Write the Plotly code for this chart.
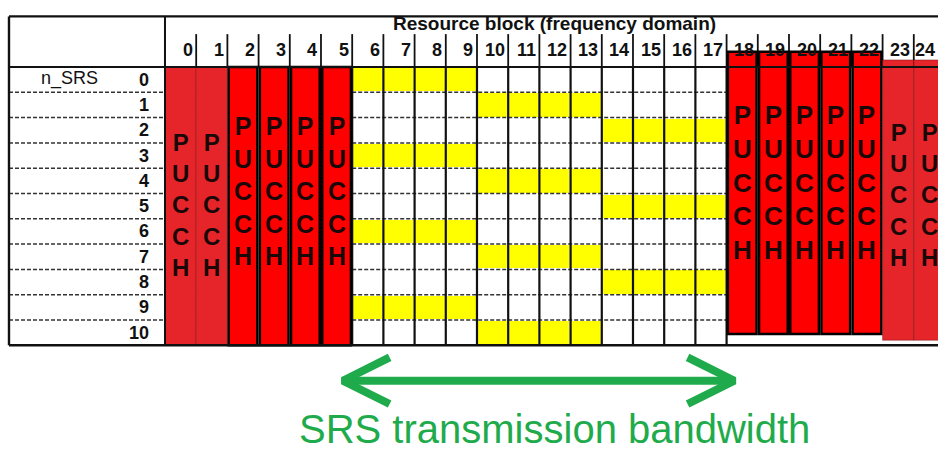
import plotly.graph_objects as go

# ---------------- data ----------------
RB_COLUMNS = list(range(25))                 # resource block indices 0..24
N_SRS_ROWS = list(range(11))                 # n_SRS 0..10
PUCCH_RBS = [0, 1, 2, 3, 4, 5, 18, 19, 20, 21, 22, 23, 24]
SRS_BAND_RBS = list(range(6, 18))            # SRS transmission bandwidth RB 6..17
SRS_BLOCK_START = [6, 10, 14, 6, 10, 14, 6, 10, 14, 6, 10]   # start RB of SRS per n_SRS
SRS_BLOCK_LEN = 4
PUCCH_LETTERS = ["P", "U", "C", "C", "H"]
TITLE = "Resource block (frequency domain)"
ROW_TITLE = "n_SRS"
ARROW_LABEL = "SRS transmission bandwidth"

# ---------------- style ----------------
RED_LIGHT = "#e6252b"
RED = "#ff0000"
YELLOW = "#ffff00"
GREEN = "#1fab4c"
INK = "#111111"
FONT = "Liberation Sans, Arial, sans-serif"

# PUCCH group styles: (rbs, fill, top, bottom, border, letter y centre, letter size)
PUCCH_STYLE = [
    ([0, 1], RED_LIGHT, 0.0, 11.0, None, 5.45, 24),
    ([2, 3, 4, 5], RED, 0.0, 11.0, "black", 4.9, 25),
    ([18, 19, 20, 21, 22], RED, -0.6, 10.55, "black", 4.55, 26),
    ([23, 24], RED_LIGHT, -0.28, 10.8, None, 5.06, 24),
]

W, H = 938, 452
X0, X1 = -5.288, 24.776
Y0, Y1 = -2.648, 15.217
fig = go.Figure()

# SRS cells as heatmap
z = []
for r in N_SRS_ROWS:
    s = SRS_BLOCK_START[r]
    z.append([1 if s <= c < s + SRS_BLOCK_LEN else 0 for c in SRS_BAND_RBS])
fig.add_trace(go.Heatmap(
    x=[c + 0.5 for c in SRS_BAND_RBS], y=[r + 0.5 for r in N_SRS_ROWS], z=z,
    colorscale=[[0, "white"], [1, YELLOW]], zmin=0, zmax=1, showscale=False,
    xgap=1, ygap=2, hoverinfo="skip"))

shapes = []
n_rows = len(N_SRS_ROWS)
band_l, band_r = SRS_BAND_RBS[0], SRS_BAND_RBS[-1] + 1

# horizontal row separators
for r in N_SRS_ROWS[1:]:
    for (xa, xb) in [(-5, 0), (band_l, band_r)]:
        shapes.append(dict(type="line", x0=xa, x1=xb, y0=r, y1=r, xref="x", yref="y",
                           line=dict(color="#333333", width=1.5, dash="4px,2px")))
    for (xa, xb) in [(0, 2), (23, X1)]:
        shapes.append(dict(type="line", x0=xa, x1=xb, y0=r, y1=r, xref="x", yref="y",
                           line=dict(color="rgba(120,0,0,0.25)", width=1, dash="dot")))
# vertical lines in the SRS area
for c in range(band_l, band_r + 1):
    shapes.append(dict(type="line", x0=c, x1=c, y0=0, y1=n_rows, xref="x", yref="y",
                       line=dict(color=INK, width=2.2)))
# header separators
for c in RB_COLUMNS[1:]:
    shapes.append(dict(type="line", x0=c, x1=c, y0=-1.3, y1=0, xref="x", yref="y",
                       line=dict(color=INK, width=1.8)))

# PUCCH columns
for rbs, fill, top, bot, border, ly, ls in PUCCH_STYLE:
    for c in rbs:
        shapes.append(dict(type="rect", x0=c + (0.04 if border else 0), x1=c + 1 - (0.04 if border else 0),
                           y0=top, y1=bot, xref="x", yref="y", fillcolor=fill,
                           line=dict(color=border if border else "rgba(90,0,0,0.5)",
                                     width=2.5 if border else 0.8)))

# table frame
shapes += [
    dict(type="line", x0=-5, x1=X1, y0=-2, y1=-2, xref="x", yref="y", line=dict(color=INK, width=2.2)),
    dict(type="line", x0=-5, x1=X1, y0=0, y1=0, xref="x", yref="y", line=dict(color=INK, width=2)),
    dict(type="line", x0=-5, x1=X1, y0=n_rows, y1=n_rows, xref="x", yref="y", line=dict(color=INK, width=2.4)),
    dict(type="line", x0=-5, x1=-5, y0=-2, y1=n_rows, xref="x", yref="y", line=dict(color=INK, width=2.4)),
    dict(type="line", x0=0, x1=0, y0=-2, y1=n_rows, xref="x", yref="y", line=dict(color=INK, width=2)),
]
fig.update_layout(shapes=shapes)

ann = []
ann.append(dict(x=12.5, y=-1.7, text=f"<b>{TITLE}</b>", showarrow=False,
                font=dict(family=FONT, size=19, color=INK), xref="x", yref="y"))
for c in RB_COLUMNS:
    ann.append(dict(x=min(c + 0.95, X1 - 0.03), y=-0.68, text=f"<b>{c}</b>", showarrow=False,
                    xanchor="right", font=dict(family=FONT, size=18, color=INK), xref="x", yref="y"))
ann.append(dict(x=-3.05, y=0.45, text=ROW_TITLE, showarrow=False,
                font=dict(family=FONT, size=18, color=INK), xref="x", yref="y"))
for r in N_SRS_ROWS:
    ann.append(dict(x=-0.45, y=r + 0.5, text=f"<b>{r}</b>", showarrow=False, xanchor="right",
                    font=dict(family=FONT, size=18, color=INK), xref="x", yref="y"))
for rbs, fill, top, bot, border, ly, ls in PUCCH_STYLE:
    for c in rbs:
        ann.append(dict(x=c + 0.5, y=ly, text="<b>" + "<br>".join(PUCCH_LETTERS) + "</b>",
                        showarrow=False, font=dict(family=FONT, size=ls, color="#1a0808"),
                        xref="x", yref="y"))
ann.append(dict(x=12.47, y=14.3, text=ARROW_LABEL, showarrow=False,
                font=dict(family=FONT, size=40, color=GREEN), xref="x", yref="y"))
fig.update_layout(annotations=ann)

# double-headed arrow spanning the SRS bandwidth
ay = 12.4
al, ar = band_l - 0.3, band_r + 0.25
hx, hy = 1.5, 0.92
fig.add_trace(go.Scatter(
    x=[al, ar, None, al + hx, al, al + hx, None, ar - hx, ar, ar - hx],
    y=[ay, ay, None, ay - hy, ay, ay + hy, None, ay - hy, ay, ay + hy],
    mode="lines", line=dict(color=GREEN, width=8), hoverinfo="skip"))

fig.update_layout(
    width=W, height=H, margin=dict(l=0, r=0, t=0, b=0),
    paper_bgcolor="white", plot_bgcolor="white", showlegend=False,
    xaxis=dict(range=[X0, X1], visible=False, fixedrange=True),
    yaxis=dict(range=[Y1, Y0], visible=False, fixedrange=True),
)
fig.write_html("out.html", config={"displayModeBar": False},
               post_script="document.body.style.margin='0';document.body.style.overflow='hidden';")
